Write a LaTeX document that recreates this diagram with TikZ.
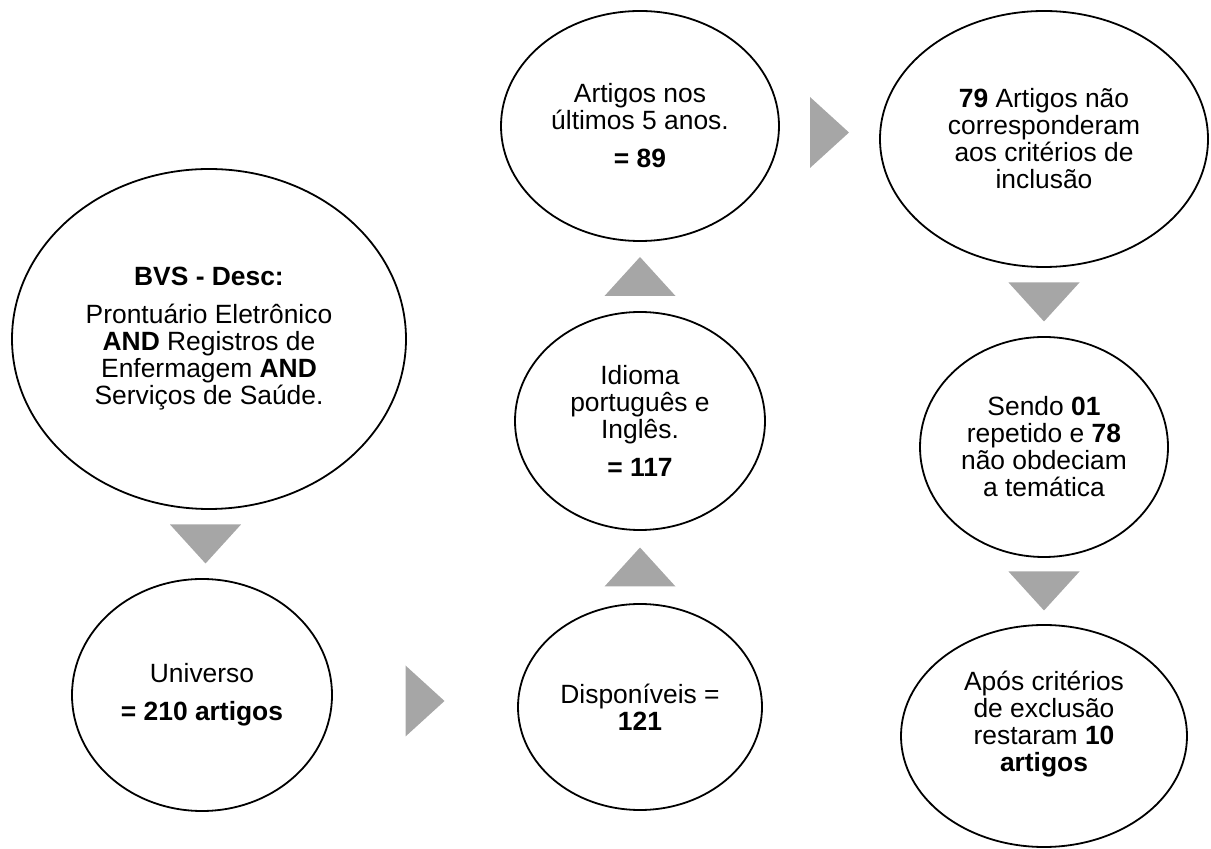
\documentclass[tikz,border=0pt]{standalone}
\usepackage{fontspec}
\setmainfont{Liberation Sans}
\usepackage{tikz}
\usetikzlibrary{shapes.geometric,%
                calc}
\definecolor{cinza}{RGB}{166,166,166}

\begin{document}
\begin{tikzpicture}[x=1pt,y=1pt]
  \tikzstyle{BolhaStyle}=[draw=black,line width=1.8pt,ellipse,inner sep=0pt,align=center,font=\fontsize{26.4}{27}\selectfont]
  \tikzstyle{TextoStyle}=[inner sep=0pt,align=center,font=\fontsize{26.4}{27}\selectfont]
  \tikzstyle{SetaStyle}=[fill=cinza]
  \useasboundingbox (0,0) rectangle (1211,849);
  \node[BolhaStyle,minimum width=394,minimum height=340] (BVS) at (209,510)
    {\textbf{BVS - Desc:}\\[11pt]Prontuário Eletrônico\\\textbf{AND} Registros de\\Enfermagem \textbf{AND}\\Serviços de Saúde.};
  \node[BolhaStyle,minimum width=260,minimum height=232] (Univ) at (202,154)
    {Universo\\[11pt]\textbf{= 210 artigos}};
  \node[BolhaStyle,minimum width=244,minimum height=206] (Disp) at (640,142)
    {Disponíveis =\\\textbf{121}};
  \node[BolhaStyle,minimum width=250,minimum height=218] (Idioma) at (640,428)
    {Idioma\\português e\\Inglês.\\[11pt]\textbf{= 117}};
  \node[BolhaStyle,minimum width=278,minimum height=230] (Anos) at (640,723)
    {Artigos nos\\últimos 5 anos.\\[11pt]\textbf{= 89}};
  \node[BolhaStyle,minimum width=328,minimum height=256] (Incl) at (1044,710)
    {\textbf{79} Artigos não\\corresponderam\\aos critérios de\\inclusão};
  \node[BolhaStyle,minimum width=248,minimum height=220] (Rep) at (1044,402)
    {Sendo \textbf{01}\\repetido e \textbf{78}\\não obdeciam\\a temática};
  \node[BolhaStyle,minimum width=286,minimum height=222] (Final) at (1044,113) {};
  \node[TextoStyle] (FinalTxt) at ($(Final.center)+(0,12)$)
    {Após critérios\\de exclusão\\restaram \textbf{10}\\\textbf{artigos}};
  % setas
  \foreach \de/\para/\ang in {BVS.south/Univ.north/-90, Univ.east/Disp.west/0,
      Disp.north/Idioma.south/90, Idioma.north/Anos.south/90, Anos.east/Incl.west/0,
      Incl.south/Rep.north/-90, Rep.south/Final.north/-90}
    \fill[SetaStyle,shift={($(\de)!0.5!(\para)$)},rotate=\ang] (19.5,0) -- (-19.5,35.5) -- (-19.5,-35.5) -- cycle;
\end{tikzpicture}
\end{document}
